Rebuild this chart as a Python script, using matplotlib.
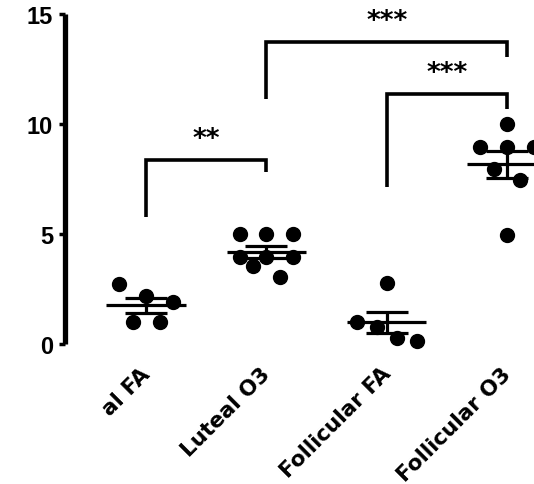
import matplotlib
matplotlib.use("Agg")
import matplotlib.pyplot as plt
import matplotlib.transforms as mtransforms
import numpy as np

# ---- data ----
groups = ["al FA", "Luteal O3", "Follicular FA", "Follicular O3"]  # first label is cut in the reference
luteal_fa = [2.73, 0.99, 2.2, 0.99, 1.9]
luteal_o3 = [5.0, 5.0, 5.0, 3.94, 3.94, 3.94, 3.56, 3.03]
follicular_fa = [0.98, 0.76, 2.77, 0.27, 0.15]
follicular_o3 = [8.94, 10.0, 8.94, 8.94, 7.95, 7.47, 4.97]
values = [luteal_fa, luteal_o3, follicular_fa, follicular_o3]

# horizontal scatter arrangement of the points (layout)
x_offsets = [
    [-0.222, -0.111, 0.0, 0.111, 0.222],
    [-0.222, 0.0, 0.222, -0.222, 0.0, 0.222, -0.111, 0.111],
    [-0.25, -0.083, 0.0, 0.083, 0.25],
    [-0.222, 0.0, 0.0, 0.222, -0.111, 0.111, 0.0],
]

y_ticks = [0, 5, 10, 15]

# significance brackets: (left group, right group, top, left end, right end, label)
brackets = [
    (0, 1, 8.38, 5.76, 7.8, "**"),
    (1, 3, 13.74, 11.14, 13.03, "***"),
    (2, 3, 11.36, 7.12, 10.68, "***"),
]

W, H = 534, 485
fig = plt.figure(figsize=(W / 100, H / 100), dpi=100)
ax = fig.add_axes([65 / W, 140 / H, (W - 65) / W, 330 / H])

lw = 2.3
for i, (vals, offs) in enumerate(zip(values, x_offsets)):
    vals = np.asarray(vals)
    x = i + np.asarray(offs)
    mean = vals.mean()
    sem = vals.std(ddof=1) / np.sqrt(len(vals))
    ax.hlines(mean, i - 0.33, i + 0.33, color="black", lw=lw, zorder=2, clip_on=False)
    ax.errorbar([i], [mean], yerr=[sem], fmt="none", ecolor="black",
                elinewidth=lw, capsize=15, capthick=lw, zorder=2, clip_on=False)
    ax.plot(x, vals, "o", color="black", markersize=10, zorder=3, clip_on=False)

for a, b, top, la, rb, lab in brackets:
    ax.plot([a, a, b, b], [la, top, top, rb], color="black", lw=2.6,
            solid_capstyle="butt", solid_joinstyle="miter", clip_on=False)
    ax.text((a + b) / 2, top + 0.62, lab, ha="center", va="baseline",
            fontsize=19, fontweight="bold", family="DejaVu Sans", clip_on=False)

ax.set_xlim(-0.675, 3.224)
ax.set_ylim(0, 15)
ax.set_yticks(y_ticks)
ax.set_yticklabels([str(t) for t in y_ticks], fontsize=17, fontweight="bold",
                   family="Liberation Sans")
ax.tick_params(axis="y", width=2.5, length=4.5, pad=4)
ax.set_xticks([])
for s in ["top", "right", "bottom"]:
    ax.spines[s].set_visible(False)
ax.spines["left"].set_linewidth(3.8)
ax.spines["left"].set_capstyle("butt")
ax.patch.set_visible(False)

# rotated category labels
trans = mtransforms.blended_transform_factory(ax.transData, ax.transAxes)
for i, g in enumerate(groups):
    ax.text(i - 0.05, -0.058, g, rotation=45, rotation_mode="anchor",
            ha="right", va="top", fontsize=15.5, fontweight="bold",
            family="DejaVu Sans", transform=trans, clip_on=False)

fig.savefig("out.png", dpi=100)
